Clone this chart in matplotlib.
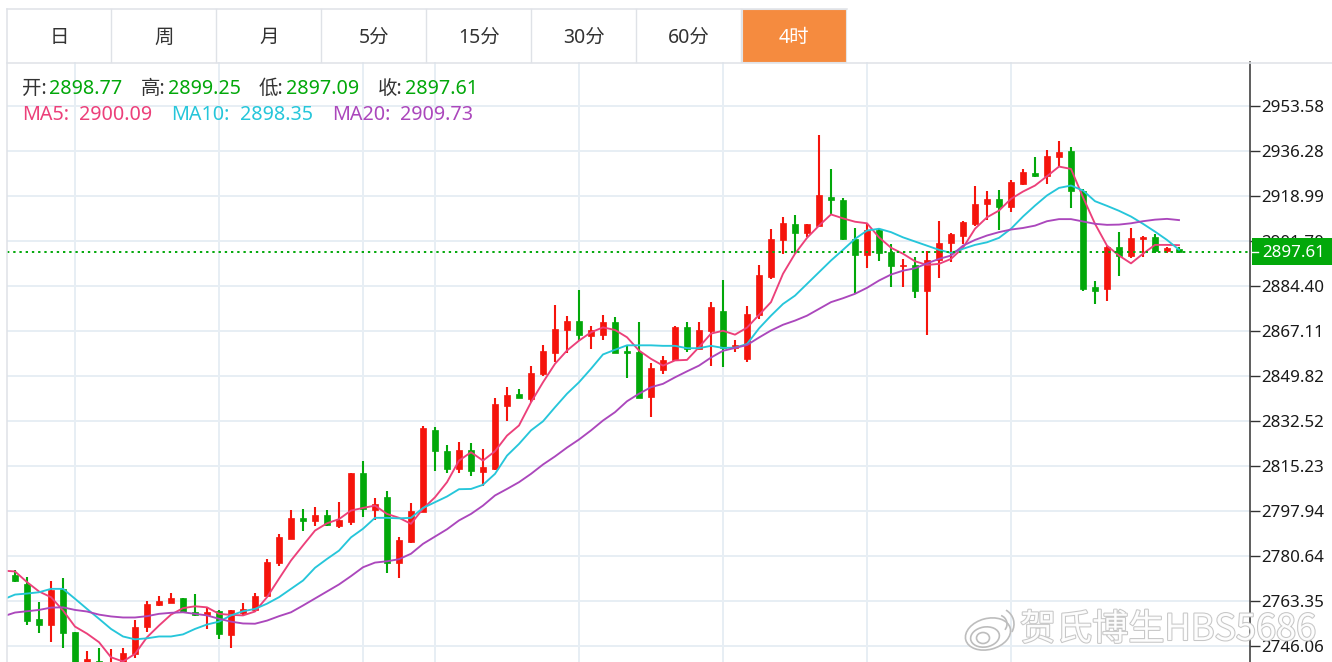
import numpy as np
import matplotlib
matplotlib.use('Agg')
import matplotlib.pyplot as plt
import matplotlib.patheffects as pe
from matplotlib.patches import Rectangle, Ellipse, Arc

plt.rcParams['font.family'] = ['Noto Sans', 'Noto Sans CJK SC', 'DejaVu Sans']

tabs = ['日', '周', '月', '5分', '15分', '30分', '60分', '4时']
price_ticks = [2953.58, 2936.28, 2918.99, 2901.70, 2884.40, 2867.11, 2849.82,
               2832.52, 2815.23, 2797.94, 2780.64, 2763.35, 2746.06]
date_grid = [5, 17, 29, 35, 47, 59, 71, 83]

opens = [2773.5, 2769.7, 2756.3, 2754.3, 2768.0, 2751.3, 2734.7, 2740.2, 2734.7, 2735.8,
         2743.0, 2753.3, 2761.7, 2762.6, 2764.3, 2759.2, 2757.9, 2759.4, 2750.4, 2758.9,
         2759.7, 2765.2, 2778.0, 2787.2, 2795.3, 2793.9, 2796.2, 2792.3, 2793.6, 2812.4,
         2798.5, 2803.4, 2777.9, 2786.2, 2797.7, 2828.9, 2820.8, 2814.0, 2821.2, 2813.1,
         2814.1, 2838.3, 2842.7, 2841.0, 2850.5, 2858.8, 2867.3, 2871.0, 2865.2, 2865.4,
         2870.6, 2859.3, 2859.2, 2841.6, 2852.2, 2855.8, 2868.8, 2860.1, 2867.0, 2874.9,
         2860.4, 2856.5, 2873.4, 2888.0, 2901.9, 2908.3, 2904.7, 2907.6, 2918.7, 2917.6,
         2902.5, 2896.4, 2906.1, 2897.4, 2891.9, 2892.6, 2882.3, 2894.4, 2900.8, 2903.5,
         2908.3, 2915.8, 2918.0, 2914.7, 2923.7, 2927.7, 2926.8, 2933.9, 2936.1, 2921.1,
         2883.9, 2883.2, 2899.3, 2896.1, 2902.5, 2903.1, 2897.9, 2898.77]
highs = [2775.3, 2772.7, 2762.8, 2771.2, 2772.2, 2751.6, 2744.0, 2745.3, 2744.8, 2745.1,
         2756.2, 2763.5, 2765.2, 2766.3, 2764.6, 2766.1, 2760.9, 2759.7, 2759.9, 2762.6,
         2766.3, 2779.3, 2789.2, 2798.5, 2798.8, 2799.6, 2798.4, 2801.2, 2812.6, 2817.3,
         2803.0, 2805.8, 2788.1, 2800.9, 2830.7, 2830.4, 2823.1, 2824.6, 2824.2, 2821.8,
         2841.4, 2845.5, 2844.9, 2853.8, 2861.9, 2877.2, 2872.7, 2882.7, 2869.1, 2873.4,
         2872.4, 2861.5, 2870.4, 2854.7, 2857.4, 2869.2, 2870.7, 2870.7, 2878.2, 2886.8,
         2863.7, 2876.6, 2892.3, 2906.4, 2911.1, 2911.5, 2908.3, 2942.6, 2929.4, 2918.3,
         2906.7, 2908.3, 2906.7, 2900.6, 2894.8, 2895.4, 2897.8, 2909.2, 2904.6, 2909.2,
         2923.0, 2920.8, 2921.4, 2925.3, 2929.5, 2933.9, 2936.8, 2940.2, 2937.7, 2921.5,
         2886.2, 2899.9, 2905.3, 2906.6, 2903.8, 2904.2, 2899.3, 2899.25]
lows = [2770.8, 2754.3, 2751.0, 2747.4, 2745.2, 2736.6, 2732.8, 2735.8, 2732.8, 2733.5,
        2741.5, 2751.3, 2761.6, 2762.4, 2758.9, 2757.4, 2752.5, 2748.7, 2745.1, 2757.9,
        2759.2, 2765.1, 2776.6, 2787.1, 2790.4, 2792.3, 2792.3, 2791.3, 2792.6, 2795.5,
        2794.5, 2774.0, 2772.2, 2785.5, 2797.5, 2813.2, 2812.7, 2812.7, 2811.2, 2807.7,
        2813.5, 2832.7, 2841.3, 2840.0, 2849.9, 2855.1, 2858.7, 2863.4, 2860.1, 2863.8,
        2858.6, 2849.1, 2841.4, 2834.2, 2850.4, 2855.5, 2858.9, 2860.0, 2853.7, 2853.4,
        2859.2, 2855.0, 2871.6, 2887.0, 2896.8, 2896.8, 2903.1, 2907.4, 2912.1, 2902.1,
        2881.6, 2891.2, 2894.2, 2883.9, 2883.9, 2879.7, 2865.7, 2887.4, 2893.5, 2900.6,
        2907.4, 2909.8, 2906.1, 2913.0, 2923.4, 2926.2, 2923.7, 2930.7, 2914.3, 2882.4,
        2877.3, 2878.8, 2888.4, 2895.2, 2895.7, 2897.0, 2897.0, 2897.09]
closes = [2770.9, 2755.8, 2754.2, 2767.7, 2751.0, 2737.4, 2741.1, 2737.4, 2738.9, 2743.3,
          2753.5, 2762.1, 2763.5, 2764.4, 2759.0, 2757.9, 2759.2, 2750.6, 2759.8, 2760.3,
          2765.4, 2778.2, 2787.8, 2795.2, 2794.0, 2796.5, 2792.6, 2794.3, 2812.6, 2798.8,
          2800.7, 2777.9, 2786.8, 2798.1, 2830.0, 2820.8, 2814.1, 2821.2, 2813.2, 2814.7,
          2839.1, 2842.6, 2841.4, 2851.1, 2859.3, 2867.9, 2871.1, 2865.4, 2867.5, 2870.7,
          2858.8, 2858.7, 2841.4, 2852.7, 2856.0, 2868.8, 2860.2, 2867.5, 2876.5, 2860.6,
          2861.9, 2873.7, 2888.7, 2902.5, 2908.7, 2904.7, 2908.1, 2919.2, 2917.4, 2902.3,
          2896.4, 2906.0, 2897.1, 2892.0, 2892.6, 2882.3, 2894.3, 2901.0, 2904.3, 2908.9,
          2916.1, 2917.9, 2914.9, 2924.2, 2928.4, 2926.7, 2934.3, 2935.8, 2920.8, 2883.3,
          2882.5, 2899.3, 2896.1, 2902.8, 2903.4, 2897.9, 2899.1, 2897.61]

# moving averages start one bar before the first visible candle
ma5 = [2775.0, 2774.7, 2770.6, 2767.0, 2764.8, 2759.7, 2753.5, 2750.8, 2747.5, 2741.7,
       2740.1, 2743.0, 2749.4, 2753.9, 2758.1, 2760.6, 2761.3, 2760.9, 2758.4, 2758.0,
       2757.8, 2759.3, 2764.8, 2771.9, 2778.9, 2784.7, 2790.4, 2793.2, 2794.8, 2798.1,
       2799.1, 2800.0, 2796.8, 2795.3, 2793.0, 2798.8, 2803.2, 2809.0, 2817.3, 2820.5,
       2817.3, 2820.9, 2826.9, 2830.8, 2839.7, 2847.4, 2854.5, 2859.6, 2863.4, 2866.6,
       2868.5, 2867.5, 2864.7, 2859.6, 2856.4, 2853.8, 2855.8, 2856.0, 2860.9, 2866.1,
       2867.2, 2865.7, 2868.4, 2873.3, 2878.2, 2889.1, 2896.8, 2902.9, 2907.6, 2911.9,
       2910.4, 2909.1, 2908.5, 2903.1, 2899.1, 2896.8, 2893.9, 2892.5, 2892.9, 2894.8,
       2899.1, 2906.4, 2910.8, 2913.4, 2917.9, 2920.7, 2923.0, 2926.6, 2930.3, 2929.4,
       2918.5, 2908.3, 2899.9, 2896.1, 2893.1, 2896.8, 2900.2, 2900.2, 2900.09]
ma10 = [2763.9, 2765.8, 2766.2, 2766.7, 2768.0, 2768.0, 2764.2, 2760.3, 2756.5, 2752.6,
        2749.7, 2748.6, 2749.0, 2749.7, 2749.7, 2750.5, 2752.6, 2754.3, 2755.4, 2757.8,
        2759.4, 2760.3, 2762.3, 2764.8, 2768.0, 2771.2, 2776.1, 2779.5, 2782.7, 2787.8,
        2791.1, 2795.3, 2795.3, 2795.1, 2795.3, 2799.1, 2801.3, 2803.5, 2806.3, 2806.4,
        2808.0, 2812.2, 2819.2, 2823.7, 2828.9, 2832.4, 2837.8, 2843.0, 2847.4, 2852.6,
        2858.1, 2859.9, 2861.6, 2861.6, 2861.6, 2861.4, 2861.4, 2860.5, 2860.5, 2861.4,
        2860.6, 2860.7, 2862.1, 2868.1, 2873.0, 2877.5, 2880.7, 2885.2, 2889.7, 2894.2,
        2898.3, 2902.5, 2905.7, 2906.4, 2905.1, 2903.1, 2901.5, 2899.9, 2898.3, 2897.1,
        2898.7, 2900.2, 2901.2, 2902.9, 2906.4, 2911.1, 2915.3, 2919.2, 2922.1, 2923.0,
        2921.1, 2917.0, 2915.2, 2913.3, 2911.1, 2908.3, 2905.3, 2902.1, 2898.35]
ma20 = [2757.4, 2758.9, 2759.4, 2759.9, 2760.8, 2760.9, 2759.9, 2759.3, 2758.1, 2757.4,
        2757.0, 2757.0, 2757.5, 2758.4, 2758.8, 2759.0, 2758.4, 2757.8, 2756.5, 2755.4,
        2754.7, 2754.6, 2755.8, 2757.5, 2759.0, 2761.6, 2764.3, 2767.0, 2769.7, 2772.9,
        2776.3, 2778.1, 2778.6, 2779.4, 2781.5, 2785.3, 2788.1, 2790.9, 2794.3, 2796.8,
        2800.0, 2803.9, 2806.4, 2809.0, 2812.2, 2815.8, 2818.9, 2822.3, 2825.4, 2828.9,
        2832.7, 2835.9, 2840.1, 2843.0, 2845.5, 2846.8, 2849.3, 2851.6, 2853.8, 2856.9,
        2859.5, 2860.6, 2861.7, 2864.6, 2867.3, 2869.5, 2871.1, 2873.0, 2875.6, 2878.2,
        2879.7, 2881.4, 2883.7, 2886.5, 2888.8, 2890.3, 2891.2, 2893.1, 2894.8, 2896.1,
        2899.9, 2902.1, 2903.8, 2905.1, 2906.1, 2906.7, 2907.6, 2909.3, 2910.1, 2910.1,
        2909.2, 2908.3, 2907.9, 2908.0, 2908.5, 2909.3, 2909.9, 2910.2, 2909.73]

RED = '#f5140c'
GREEN = '#02a80a'
PINK = '#ec407a'
CYAN = '#26c6da'
PURPLE = '#ab47bc'
W, H = 1332, 662

fig = plt.figure(figsize=(W / 100, H / 100), dpi=100, facecolor='white')

# price chart, pixel box x 7-1250, y 62-662
ax = fig.add_axes([7 / W, 0, (1250 - 7) / W, (H - 62) / H])
idx = np.arange(len(closes))
colors = [RED if c >= o else GREEN for o, c in zip(opens, closes)]
ax.vlines(idx, lows, highs, color=colors, lw=1.5, zorder=3)
ax.bar(idx, np.array(closes) - np.array(opens), bottom=opens, width=0.58, color=colors,
       edgecolor=colors, lw=0.5, zorder=3)

ma_x = np.arange(len(ma5)) - 1
ax.plot(ma_x, ma5, color=PINK, lw=1.35, zorder=4)
ax.plot(ma_x, ma10, color=CYAN, lw=1.35, zorder=4)
ax.plot(ma_x, ma20, color=PURPLE, lw=1.35, zorder=4)
ax.axhline(closes[-1], color=GREEN, lw=1.4, ls=(0, (1.2, 2)), zorder=5)

ax.set_xlim(-8 / 12, 1235 / 12)
ax.set_ylim(2953.58 - (662 - 106) * 17.295 / 45, 2953.58 + (106 - 62) * 17.295 / 45)
ax.set_xticks(date_grid)
ax.set_xticklabels([])
ax.set_yticks(price_ticks)
ax.set_yticklabels(['%.2f' % t for t in price_ticks])
ax.yaxis.tick_right()
ax.tick_params(axis='x', length=0)
ax.tick_params(axis='y', length=7, width=1, color='#333333', pad=1, labelsize=12.2, labelcolor='#1a1a1a')
ax.grid(True, color='#e7eef4', lw=1.4)
ax.set_axisbelow(True)
for s in ['top', 'left', 'bottom']:
    ax.spines[s].set_visible(False)
ax.spines['right'].set_color('#333333')
ax.spines['right'].set_linewidth(1.1)

# overlay in pixel coordinates for the tabs, header and watermark
ui = fig.add_axes([0, 0, 1, 1], facecolor='none')
ui.set_xlim(0, W)
ui.set_ylim(H, 0)
ui.axis('off')

BORDER = '#dfe2e7'
ui.add_patch(Rectangle((742, 9), 104, 53, facecolor='#f58b3f', edgecolor='#e5e5e5', lw=0.8))
ui.plot([7, 847], [8.5, 8.5], color=BORDER, lw=1.1)
ui.plot([6.5, 6.5], [8.5, H], color=BORDER, lw=1.1)
ui.plot([7, W], [62.5, 62.5], color=BORDER, lw=1.1)
for n, label in enumerate(tabs):
    if n:
        ui.plot([6 + 105 * n] * 2, [9, 62], color=BORDER, lw=1)
    ui.text(59 + 105 * n, 37.5, label, ha='center', va='center', fontsize=14,
            color='white' if n == 7 else '#333333')

for lx, vx, name, val in [(22, 49, '开:', opens[-1]), (141, 168, '高:', highs[-1]),
                          (259, 286, '低:', lows[-1]), (378, 405, '收:', closes[-1])]:
    ui.text(lx, 88.5, name, ha='left', va='center', fontsize=14, color='#333333')
    ui.text(vx, 88.5, '%.2f' % val, ha='left', va='center', fontsize=14.2, color=GREEN)
for lx, vx, name, val, col in [(22, 79, 'MA5:', ma5[-1], PINK), (171, 240, 'MA10:', ma10[-1], CYAN),
                               (332, 400, 'MA20:', ma20[-1], PURPLE)]:
    ui.text(lx, 114.5, name, ha='left', va='center', fontsize=14.2, color=col)
    ui.text(vx, 114.5, '%.2f' % val, ha='left', va='center', fontsize=14.2, color=col)

# last price tag
ui.add_patch(Rectangle((1252, 238), 80, 27, facecolor=GREEN, edgecolor='none'))
ui.plot([1252, 1258], [252, 252], color='white', lw=1)
ui.text(1262, 253, '%.2f' % closes[-1], ha='left', va='center', fontsize=12.2, color='white')

# watermark
wm = ui.text(1020, 630, '贺氏博生HBS5686', ha='left', va='center', fontsize=26, color='white', alpha=0.95,
             family=['Noto Sans CJK SC', 'DejaVu Sans'])
wm.set_path_effects([pe.withStroke(linewidth=1.5, foreground='#c4c4c4')])
logo = dict(edgecolor='#bdbdbd', lw=1.2, zorder=6)
ui.add_patch(Ellipse((988, 634), 46, 31, angle=-15, facecolor='white', **logo))
ui.add_patch(Ellipse((985, 637), 29, 20, angle=-10, facecolor='white', **logo))
ui.add_patch(Ellipse((983, 638), 13, 11, facecolor='white', **logo))
ui.add_patch(Arc((998, 624), 18, 18, theta1=-70, theta2=40, **logo))
ui.add_patch(Arc((998, 624), 32, 32, theta1=-60, theta2=30, **logo))

fig.savefig('out.png', dpi=100)
